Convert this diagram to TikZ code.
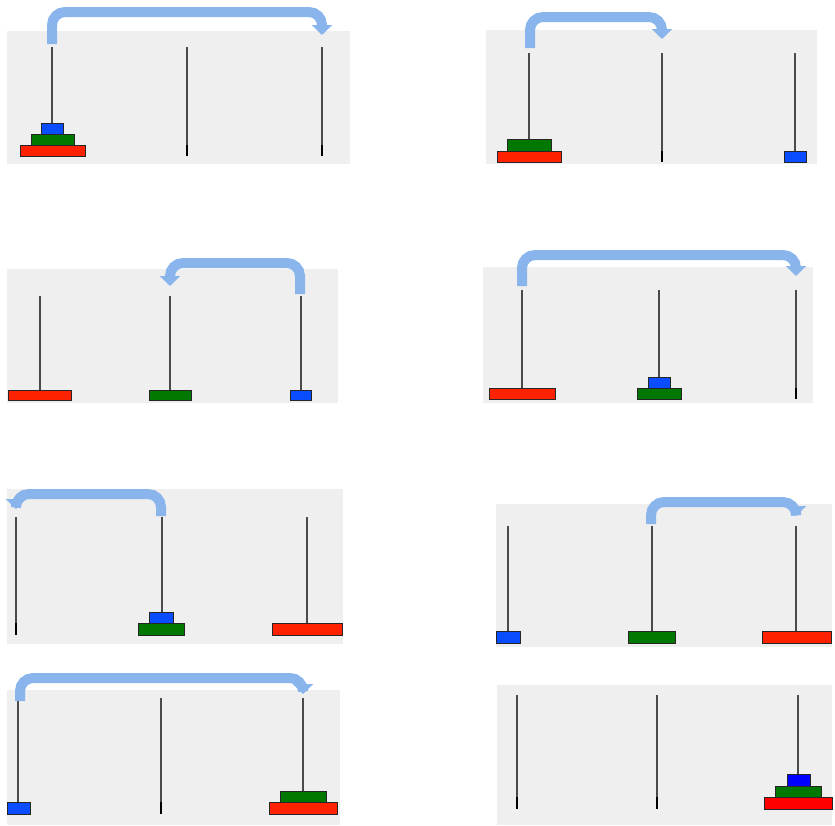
\documentclass[tikz,border=0pt]{standalone}
\usetikzlibrary{arrows.meta}

\definecolor{panelgray}{HTML}{EFEFEF}
\definecolor{pegline}{HTML}{4A4A4A}
\definecolor{dred}{HTML}{FF2200}
\definecolor{dgreen}{HTML}{007800}
\definecolor{dblue}{HTML}{0A4CFF}
\definecolor{arrowblue}{HTML}{8AB5EC}

\begin{document}
\begin{tikzpicture}[x=1pt, y=-1pt,
	panel/.style={fill=panelgray, draw=none},
	peg/.style={draw=pegline, line width=1.1pt},
	stub/.style={draw=black, line width=2.2pt},
	disk/.style={draw=black!85, line width=0.9pt},
	move/.style={draw=arrowblue, line width=10pt, rounded corners=13pt, -{Triangle[width=20pt, length=10pt]}}]
	\useasboundingbox (0, 0) rectangle (835, 825);

	% move 1: small disk to peg C
	\fill[panel] (7, 31) rectangle (350, 164);
	\foreach \x in {52, 187, 322} {
		\draw[peg] (\x, 47) -- (\x, 156);
	}
	\foreach \x in {187, 322} {
		\draw[stub] (\x, 145) -- (\x, 156);
	}
	\draw[disk, fill=dred] (20, 145) rectangle (85, 156);
	\draw[disk, fill=dgreen] (31, 134) rectangle (74, 145);
	\draw[disk, fill=dblue] (41, 123) rectangle (63, 134);
	\coordinate (s1) at (52, 44);
	\coordinate (b1) at (0, 12);
	\coordinate (t1) at (322, 35);
	\draw[move] (s1) -- (s1 |- b1) -- (t1 |- b1) -- (t1);

	% move 2: middle disk to peg B
	\fill[panel] (486, 30) rectangle (817, 164);
	\foreach \x in {529, 662, 795} {
		\draw[peg] (\x, 53) -- (\x, 162);
	}
	\draw[stub] (662, 151) -- (662, 162);
	\draw[disk, fill=dred] (497, 151) rectangle (561, 162);
	\draw[disk, fill=dgreen] (507, 139) rectangle (551, 151);
	\draw[disk, fill=dblue] (784, 151) rectangle (806, 162);
	\coordinate (s2) at (530, 48);
	\coordinate (b2) at (0, 17);
	\coordinate (t2) at (662, 39);
	\draw[move] (s2) -- (s2 |- b2) -- (t2 |- b2) -- (t2);

	% move 3: small disk back to peg B
	\fill[panel] (7, 269) rectangle (338, 403);
	\foreach \x in {40, 170, 301} {
		\draw[peg] (\x, 296) -- (\x, 400);
	}
	\draw[disk, fill=dred] (8, 390) rectangle (71, 400);
	\draw[disk, fill=dgreen] (149, 390) rectangle (191, 400);
	\draw[disk, fill=dblue] (290, 390) rectangle (311, 400);
	\coordinate (s3) at (300, 294);
	\coordinate (b3) at (0, 263);
	\coordinate (t3) at (170, 286);
	\draw[move] (s3) -- (s3 |- b3) -- (t3 |- b3) -- (t3);

	% move 4: large disk to peg C
	\fill[panel] (483, 267) rectangle (813, 403);
	\foreach \x in {522, 659, 796} {
		\draw[peg] (\x, 290) -- (\x, 399);
	}
	\draw[stub] (796, 388) -- (796, 399);
	\draw[disk, fill=dred] (489, 388) rectangle (555, 399);
	\draw[disk, fill=dgreen] (637, 388) rectangle (681, 399);
	\draw[disk, fill=dblue] (648, 377) rectangle (670, 388);
	\coordinate (s4) at (522, 286);
	\coordinate (b4) at (0, 255);
	\coordinate (t4) at (796, 276);
	\draw[move] (s4) -- (s4 |- b4) -- (t4 |- b4) -- (t4);

	% move 5: small disk to peg A
	\fill[panel] (7, 489) rectangle (343, 644);
	\foreach \x in {16, 162, 307} {
		\draw[peg] (\x, 517) -- (\x, 635);
	}
	\draw[stub] (16, 623) -- (16, 635);
	\draw[disk, fill=dred] (272, 623) rectangle (342, 635);
	\draw[disk, fill=dgreen] (138, 623) rectangle (184, 635);
	\draw[disk, fill=dblue] (149, 612) rectangle (173, 623);
	\coordinate (s5) at (161, 516);
	\coordinate (b5) at (0, 494);
	\coordinate (t5) at (16, 509);
	\draw[move] (s5) -- (s5 |- b5) -- (t5 |- b5) -- (t5);

	% move 6: middle disk to peg C
	\fill[panel] (496, 504) rectangle (832, 647);
	\foreach \x in {508, 652, 796} {
		\draw[peg] (\x, 526) -- (\x, 643);
	}
	\draw[disk, fill=dblue] (496, 631) rectangle (520, 643);
	\draw[disk, fill=dgreen] (628, 631) rectangle (675, 643);
	\draw[disk, fill=dred] (762, 631) rectangle (831, 643);
	\coordinate (s6) at (651, 524);
	\coordinate (b6) at (0, 502);
	\coordinate (t6) at (796, 516);
	\draw[move] (s6) -- (s6 |- b6) -- (t6 |- b6) -- (t6);

	% move 7: small disk to peg C
	\fill[panel] (7, 690) rectangle (340, 825);
	\foreach \x in {18, 161, 303} {
		\draw[peg] (\x, 698) -- (\x, 814);
	}
	\draw[stub] (161, 802) -- (161, 814);
	\draw[disk, fill=dblue] (7, 802) rectangle (30, 814);
	\draw[disk, fill=dred] (269, 802) rectangle (337, 814);
	\draw[disk, fill=dgreen] (280, 791) rectangle (326, 802);
	\coordinate (s7) at (20, 701);
	\coordinate (b7) at (0, 678);
	\coordinate (t7) at (303, 694);
	\draw[move] (s7) -- (s7 |- b7) -- (t7 |- b7) -- (t7);

	% done
	\fill[panel] (497, 685) rectangle (832, 825);
	\foreach \x in {517, 657, 798} {
		\draw[peg] (\x, 695) -- (\x, 809);
	}
	\foreach \x in {517, 657} {
		\draw[stub] (\x, 797) -- (\x, 809);
	}
	\draw[disk, fill=red] (764, 797) rectangle (832, 809);
	\draw[disk, fill=dgreen] (775, 786) rectangle (821, 797);
	\draw[disk, fill=blue] (787, 774) rectangle (810, 786);
\end{tikzpicture}
\end{document}
